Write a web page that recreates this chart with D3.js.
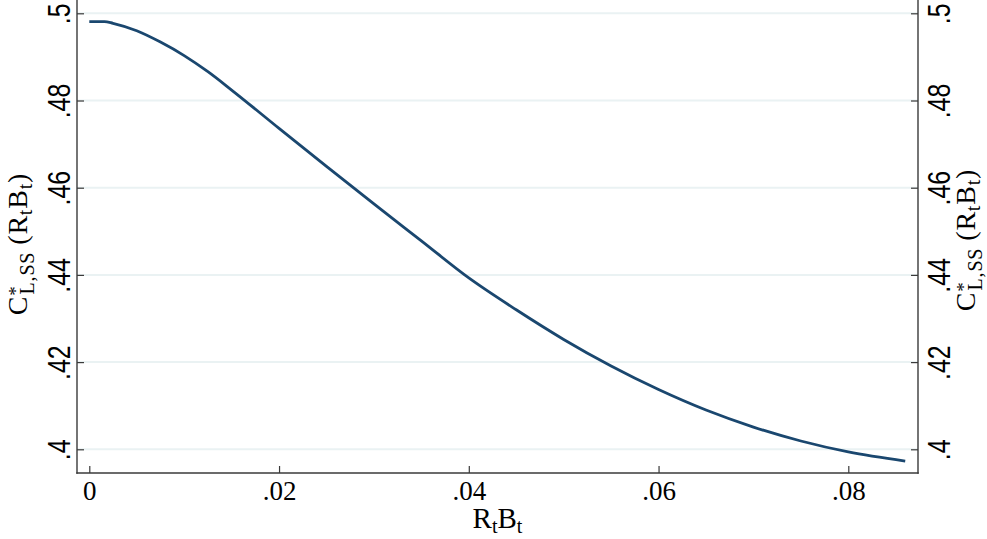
<!DOCTYPE html>
<html>
<head>
<meta charset="utf-8">
<script src="https://cdn.jsdelivr.net/npm/d3@7/dist/d3.min.js"></script>
<style>
  html, body { margin: 0; padding: 0; background: #fff; }
  svg { display: block; }
</style>
</head>
<body>
<svg id="chart" width="987" height="539"></svg>
<script>
// ---- data ----
const xValues = [0, 0.0016, 0.0025, 0.005, 0.0075, 0.01, 0.0125, 0.015, 0.02, 0.025, 0.03,
                 0.035, 0.04, 0.045, 0.05, 0.055, 0.06, 0.065, 0.07, 0.075, 0.08, 0.086];
const yValues = [0.4981, 0.4981, 0.4977, 0.4960, 0.4934, 0.4903, 0.4866, 0.4824, 0.4736, 0.4649, 0.4563,
                 0.4478, 0.4393, 0.4320, 0.4252, 0.4191, 0.4137, 0.4090, 0.4051, 0.4019, 0.3994, 0.3973];
const xTicks = [0, 0.02, 0.04, 0.06, 0.08];
const xTickLabels = ["0", ".02", ".04", ".06", ".08"];
const yTicks = [0.4, 0.42, 0.44, 0.46, 0.48, 0.5];
const yTickLabels = [".4", ".42", ".44", ".46", ".48", ".5"];

const points = xValues.map((x, i) => ({ x: x, y: yValues[i] }));

// ---- layout ----
const svg = d3.select("#chart");
const plotLeft = 77, plotRight = 918, plotTop = 0, plotBottom = 473;

const x = d3.scaleLinear().domain([0, 0.08]).range([89.3, 848.3]);
const y = d3.scaleLinear().domain([0.4, 0.5]).range([449.3, 13.3]);

const gridColor = "#eaf2f3";
const axisColor = "#3a3a3a";
const lineColor = "#1a476f";

// gridlines
svg.append("g").selectAll("line").data(yTicks).join("line")
  .attr("x1", plotLeft).attr("x2", plotRight)
  .attr("y1", d => y(d)).attr("y2", d => y(d))
  .attr("stroke", gridColor).attr("stroke-width", 2);

// line
svg.append("path")
  .datum(points)
  .attr("fill", "none")
  .attr("stroke", lineColor)
  .attr("stroke-width", 2.8)
  .attr("stroke-linejoin", "round")
  .attr("d", d3.line().x(d => x(d.x)).y(d => y(d.y)).curve(d3.curveMonotoneX));

// axes lines
const axisLines = svg.append("g").attr("stroke", axisColor).attr("stroke-width", 1.4);
axisLines.append("line").attr("x1", plotLeft).attr("x2", plotLeft).attr("y1", plotTop).attr("y2", plotBottom + 0.7);
axisLines.append("line").attr("x1", plotRight).attr("x2", plotRight).attr("y1", plotTop).attr("y2", plotBottom + 0.7);
axisLines.append("line").attr("x1", plotLeft - 0.7).attr("x2", plotRight + 0.7).attr("y1", plotBottom).attr("y2", plotBottom);

// bottom axis
const xAxis = svg.append("g")
  .attr("transform", `translate(0,${plotBottom})`)
  .call(d3.axisBottom(x).tickValues(xTicks).tickFormat((d, i) => xTickLabels[i])
        .tickSizeInner(-7).tickSizeOuter(0));
xAxis.select(".domain").remove();
xAxis.selectAll(".tick line").attr("stroke", axisColor).attr("stroke-width", 1.2);
xAxis.selectAll(".tick text")
  .attr("y", 27).attr("dy", null)
  .attr("fill", "#000")
  .style("font-family", "'Liberation Serif', 'DejaVu Serif', serif")
  .style("font-size", "27px");

// left axis
const yAxisL = svg.append("g")
  .attr("transform", `translate(${plotLeft},0)`)
  .call(d3.axisLeft(y).tickValues(yTicks).tickFormat((d, i) => yTickLabels[i])
        .tickSizeInner(-7).tickSizeOuter(0));
yAxisL.select(".domain").remove();
yAxisL.selectAll(".tick line").attr("stroke", axisColor).attr("stroke-width", 1.2);
yAxisL.selectAll(".tick text")
  .attr("x", null).attr("dy", null)
  .attr("text-anchor", "middle")
  .attr("transform", "translate(-7,0) rotate(-90) scale(0.78,1)")
  .attr("fill", "#000")
  .style("font-family", "'Liberation Sans', Arial, sans-serif")
  .style("font-size", "32px");

// right axis
const yAxisR = svg.append("g")
  .attr("transform", `translate(${plotRight},0)`)
  .call(d3.axisRight(y).tickValues(yTicks).tickFormat((d, i) => yTickLabels[i])
        .tickSizeInner(-7).tickSizeOuter(0));
yAxisR.select(".domain").remove();
yAxisR.selectAll(".tick line").attr("stroke", axisColor).attr("stroke-width", 1.2);
yAxisR.selectAll(".tick text")
  .attr("x", null).attr("dy", null)
  .attr("text-anchor", "middle")
  .attr("transform", "translate(32,0) rotate(-90) scale(0.78,1)")
  .attr("fill", "#000")
  .style("font-family", "'Liberation Sans', Arial, sans-serif")
  .style("font-size", "32px");

// titles
const serif = "'Liberation Serif', 'DejaVu Serif', serif";

function yTitle(tx, ty) {
  const t = svg.append("text")
    .attr("transform", `translate(${tx},${ty}) rotate(-90)`)
    .attr("text-anchor", "middle")
    .attr("fill", "#000")
    .style("font-family", serif)
    .style("font-size", "28px")
    .style("letter-spacing", "0.8px");
  t.append("tspan").text("C");
  t.append("tspan").attr("dy", -5).attr("dx", 0).style("font-size", "19px").text("*");
  t.append("tspan").attr("dy", 12).attr("dx", -9).style("font-size", "20px").text("L,SS");
  t.append("tspan").attr("dy", -7).attr("dx", 7).text("(R");
  t.append("tspan").attr("dy", 5).style("font-size", "20px").text("t");
  t.append("tspan").attr("dy", -5).text("B");
  t.append("tspan").attr("dy", 5).style("font-size", "20px").text("t");
  t.append("tspan").attr("dy", -5).text(")");
}
yTitle(27, 244);
yTitle(975, 240);

const xt = svg.append("text")
  .attr("x", (plotLeft + plotRight) / 2).attr("y", 528)
  .attr("text-anchor", "middle")
  .attr("fill", "#000")
  .style("font-family", serif)
  .style("font-size", "29px");
xt.append("tspan").text("R");
xt.append("tspan").attr("dy", 5).style("font-size", "20px").text("t");
xt.append("tspan").attr("dy", -5).text("B");
xt.append("tspan").attr("dy", 5).style("font-size", "20px").text("t");
</script>
</body>
</html>
